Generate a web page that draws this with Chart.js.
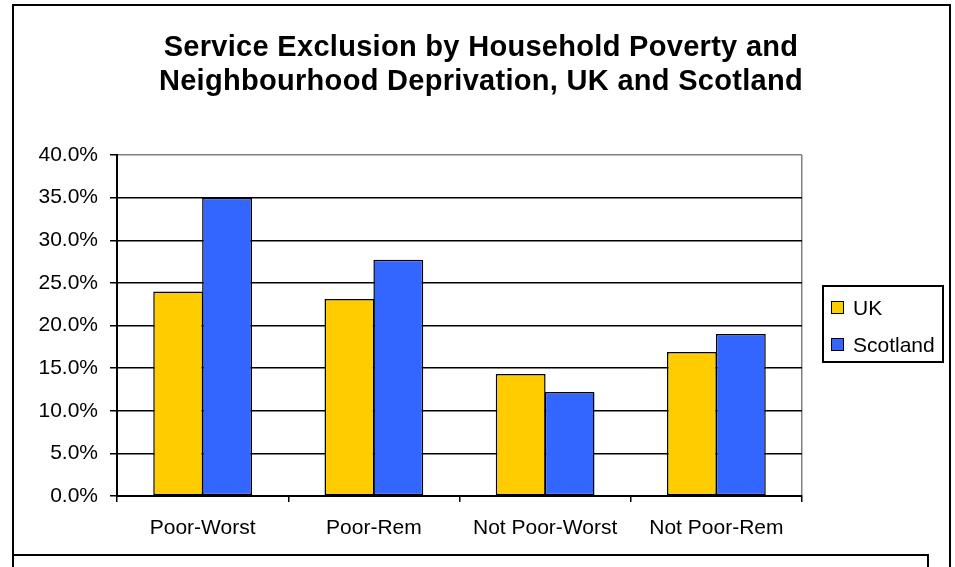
<!DOCTYPE html>
<html lang="en">
<head>
    <meta charset="UTF-8">
    <meta name="viewport" content="width=device-width, initial-scale=1.0">
    <script src="https://cdn.jsdelivr.net/npm/chart.js"></script>
    <title>Service Exclusion, UK and Scotland</title>
    <style>
        html, body { margin: 0; padding: 0; background: #fff; overflow: hidden; }
        .frame { position: absolute; left: 12px; top: 4px; width: 935px; height: 620px; border: 2px solid #000; }
        .note { position: absolute; left: 12px; top: 554px; width: 913px; height: 60px; border: 2px solid #000; }
        #wrap { position: absolute; left: 0; top: 0; width: 955px; height: 567px; }
    </style>
</head>
<body>
    <div class="frame"></div>
    <div class="note"></div>
    <div id="wrap">
        <canvas id="exclusionChart"></canvas>
    </div>

    <script>
    const titleLines = ['Service Exclusion by Household Poverty and', 'Neighbourhood Deprivation, UK and Scotland'];
    const categories = ['Poor-Worst', 'Poor-Rem', 'Not Poor-Worst', 'Not Poor-Rem'];
    const ukValues = [24.0, 23.1, 14.3, 16.9];
    const scotlandValues = [35.0, 27.7, 12.2, 19.0];
    const yTickValues = [0, 5, 10, 15, 20, 25, 30, 35, 40];

    const FONT = '"Liberation Sans", Arial, sans-serif';

    // two-line title, centred on the outer frame rather than the plot
    const titlePlugin = {
        id: 'frameTitle',
        afterDraw(chart) {
            const ctx = chart.ctx;
            ctx.save();
            ctx.font = 'bold 29px ' + FONT;
            ctx.fillStyle = '#000';
            ctx.textAlign = 'center';
            ctx.textBaseline = 'alphabetic';
            ctx.letterSpacing = '0.3px';
            titleLines.forEach((line, i) => ctx.fillText(line, 481, 56 + i * 34));
            ctx.restore();
        }
    };

    // boxed legend to the right of the plot area
    const legendBox = {
        id: 'legendBox',
        afterDraw(chart) {
            const ctx = chart.ctx;
            const area = chart.chartArea;
            const left = area.right + 21;
            const w = 120, h = 76;
            const top = Math.round((area.top + area.bottom) / 2 - h / 2) - 2;
            ctx.save();
            ctx.lineWidth = 2;
            ctx.strokeStyle = '#000';
            ctx.strokeRect(left, top, w, h);
            ctx.font = '21px ' + FONT;
            ctx.textBaseline = 'middle';
            chart.data.datasets.forEach((ds, i) => {
                const cy = top + 22 + i * 37;
                ctx.fillStyle = ds.backgroundColor;
                ctx.fillRect(left + 8.5, cy - 6.5, 12, 12);
                ctx.lineWidth = 1;
                ctx.strokeRect(left + 8.5, cy - 6.5, 12, 12);
                ctx.fillStyle = '#000';
                ctx.fillText(ds.label, left + 30, cy + 1);
            });
            ctx.restore();
        }
    };

    Chart.defaults.font.family = FONT;
    Chart.defaults.font.size = 21;
    Chart.defaults.color = '#000';

    new Chart(document.getElementById('exclusionChart'), {
        type: 'bar',
        data: {
            labels: categories,
            datasets: [{
                label: 'UK',
                data: ukValues,
                backgroundColor: '#FFCC00',
                borderColor: '#000',
                borderWidth: 1.5,
                borderSkipped: false
            }, {
                label: 'Scotland',
                data: scotlandValues,
                backgroundColor: '#3366FF',
                borderColor: '#000',
                borderWidth: 1.5,
                borderSkipped: false
            }]
        },
        options: {
            responsive: true,
            maintainAspectRatio: false,
            animation: false,
            layout: { padding: { top: 155, right: 153, bottom: 0, left: 0 } },
            // slightly over 1 so neighbouring bars share one outline
            datasets: { bar: { barPercentage: 1.02, categoryPercentage: 0.571 } },
            plugins: {
                legend: { display: false },
                title: { display: false },
                tooltip: { enabled: false }
            },
            scales: {
                x: {
                    afterFit(scale) { scale.height = 71; },
                    grid: {
                        offset: true,
                        drawOnChartArea: true,
                        // only the right-hand edge of the plot gets a line
                        color: (c) => c.type === 'scale' ? '#808080' : 'rgba(0,0,0,0)',
                        tickColor: '#000',
                        tickLength: 6,
                        lineWidth: 1.5
                    },
                    border: { color: '#000', width: 2 },
                    ticks: { padding: 14, maxRotation: 0, autoSkip: false }
                },
                y: {
                    min: 0,
                    max: 40,
                    afterFit(scale) { scale.width = 117; },
                    afterBuildTicks(scale) { scale.ticks = yTickValues.map(v => ({ value: v })); },
                    grid: {
                        color: (c) => c.tick && c.tick.value === 40 ? '#808080' : '#000',
                        tickColor: '#000',
                        tickLength: 7,
                        lineWidth: 1.5
                    },
                    border: { color: '#000', width: 2 },
                    ticks: {
                        padding: 12,
                        callback: (v) => v.toFixed(1) + '%'
                    }
                }
            }
        },
        plugins: [titlePlugin, legendBox]
    });
    </script>
</body>
</html>
